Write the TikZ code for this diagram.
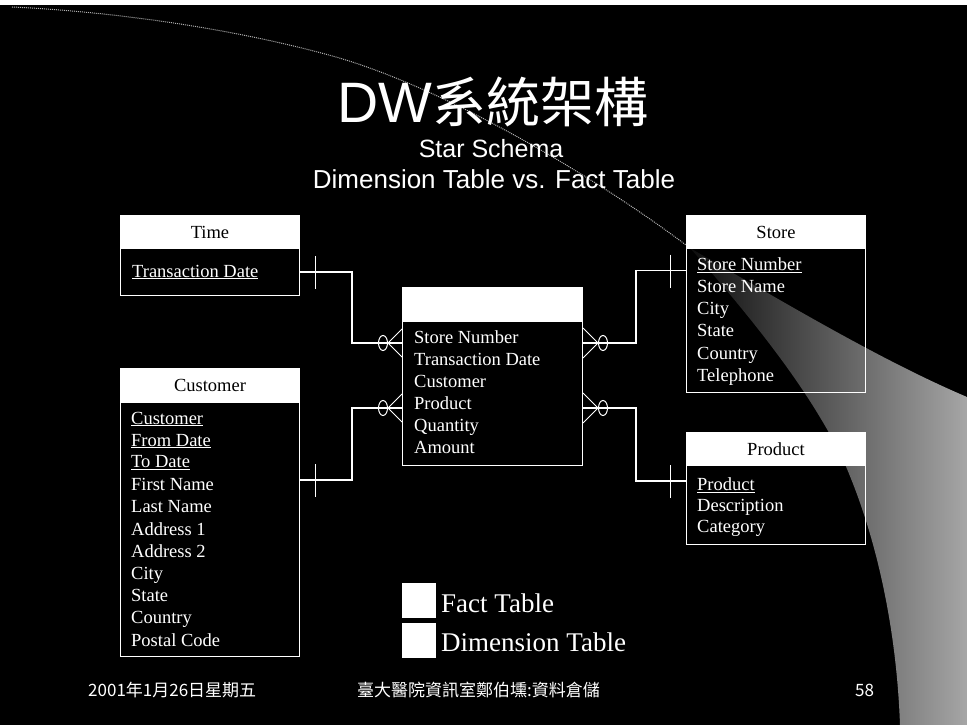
\documentclass[tikz,border=0pt]{standalone}
\usepackage{fontspec}
\setmainfont{Liberation Serif}
\newfontfamily\arialf{Liberation Sans}
\newfontfamily\cjkf{Noto Sans CJK TC}
\usetikzlibrary{calc}
\begin{document}
\begin{tikzpicture}[x=1pt,y=-1pt,
  hdr/.style={draw=white, fill=white, line width=1pt, minimum width=179pt, minimum height=33pt, inner sep=0pt, anchor=north west, text=black, font=\fontsize{18.5}{22}\selectfont},
  bodybox/.style={draw=white, line width=1pt, inner sep=0pt, anchor=north west, minimum width=179pt},
  row/.style={text=white, anchor=base west, inner sep=0pt, font=\fontsize{18.5}{22}\selectfont},
  conn/.style={draw=white, line width=1.2pt},
  crow/.style={draw=white, line width=1pt},
  legbox/.style={fill=white, draw=white, minimum width=33pt, minimum height=34pt, inner sep=0pt, anchor=north west},
  legtext/.style={text=white, anchor=base west, inner sep=0pt, font=\fontsize{27}{30}\selectfont},
  foot/.style={text=white, anchor=base west, inner sep=0pt, font=\cjkf\fontsize{17}{20}\selectfont}
]
\useasboundingbox (0,0) rectangle (967,725);
\fill[black] (0,0) rectangle (967,725);
\fill[white] (0,0) rectangle (967,5);

% decorative swoosh
\begin{scope}
\clip (690,248) .. controls (780,300) and (880,360) .. (967,397)
  -- (967,725) -- (900,725)
  .. controls (897,640) and (880,540) .. (840,453)
  .. controls (815,405) and (780,350) .. cycle;
\shade[left color=black!90!gray, right color=gray!70] (690,248) rectangle (967,725);
\end{scope}
\draw[gray!60, densely dotted, line width=1pt] (12,7) .. controls (120,12) and (240,30) .. (336,57)
  .. controls (450,90) and (600,180) .. (690,248);

% title
\node[text=white, anchor=base, inner sep=0pt] (title) at (493,122)
  {\arialf\fontsize{57}{60}\selectfont DW\cjkf\fontsize{54}{60}\selectfont 系統架構};
\node[text=white, anchor=base, inner sep=0pt, font=\arialf\fontsize{25}{28}\selectfont] (sub1) at (491,157) {Star Schema};
\node[text=white, anchor=base, inner sep=0pt, font=\arialf\fontsize{26}{28}\selectfont] (sub2) at (494,188) {Dimension Table vs. Fact Table};

% Time
\node[hdr] (timeh) at (120,215) {Time};
\node[bodybox, minimum height=47pt] (timeb) at (120,248) {};
\node[row] (t1) at (132,277) {\underline{Transaction Date}};

% Customer
\node[hdr] (custh) at (120,368) {Customer};
\node[bodybox, minimum height=254pt] (custb) at (120,402) {};
\node[row] (c1) at (131,424) {\underline{Customer}};
\node[row] (c2) at (131,446) {\underline{From Date}};
\node[row] (c3) at (131,467.5) {\underline{To Date}};
\node[row] (c4) at (131,490) {First Name};
\node[row] (c5) at (131,512.5) {Last Name};
\node[row] (c6) at (131,535) {Address 1};
\node[row] (c7) at (131,557) {Address 2};
\node[row] (c8) at (131,579) {City};
\node[row] (c9) at (131,601.5) {State};
\node[row] (c10) at (131,623.5) {Country};
\node[row] (c11) at (131,646) {Postal Code};

% Fact
\node[hdr, minimum width=180pt] (facth) at (402,287) {};
\node[bodybox, minimum width=180pt, minimum height=144pt] (factb) at (402,321) {};
\node[row] (f1) at (414,343) {Store Number};
\node[row] (f2) at (414,365) {Transaction Date};
\node[row] (f3) at (414,387) {Customer};
\node[row] (f4) at (414,409.5) {Product};
\node[row] (f5) at (414,431.5) {Quantity};
\node[row] (f6) at (414,453) {Amount};

% Store
\node[hdr] (storeh) at (686,215) {Store};
\node[bodybox, minimum height=144pt] (storeb) at (686,248) {};
\node[row] (s1) at (697,270.5) {\underline{Store Number}};
\node[row] (s2) at (697,292) {Store Name};
\node[row] (s3) at (697,314) {City};
\node[row] (s4) at (697,336.5) {State};
\node[row] (s5) at (697,359) {Country};
\node[row] (s6) at (697,381.5) {Telephone};

% Product
\node[hdr] (prodh) at (686,432) {Product};
\node[bodybox, minimum height=80pt] (prodb) at (686,464) {};
\node[row] (p1) at (697,490.5) {\underline{Product}};
\node[row] (p2) at (697,511) {Description};
\node[row] (p3) at (697,532) {Category};

% connector anchors
\coordinate (fL1) at ($(factb.north west)+(0,22)$);
\coordinate (fL2) at ($(factb.north west)+(0,87)$);
\coordinate (fR1) at ($(factb.north east)+(0,22)$);
\coordinate (fR2) at ($(factb.north east)+(0,87)$);
\coordinate (cS) at ($(custb.north east)+(0,78)$);
\coordinate (sS) at ($(storeb.north west)+(0,22.5)$);
\coordinate (pS) at ($(prodb.north west)+(0,17)$);

% connectors
\draw[conn] (timeb.east) -- ++(52,0) |- (fL1);
\draw[conn] (cS) -- ++(52,0) |- (fL2);
\draw[conn] (fR1) -- ++(53,0) |- (sS);
\draw[conn] (fR2) -- ++(53,0) |- (pS);

% one-marks
\draw[crow] ($(timeb.east)+(15,-16)$) -- ++(0,33);
\draw[crow] ($(cS)+(15,-16)$) -- ++(0,33);
\draw[crow] ($(sS)+(-16,-16)$) -- ++(0,33);
\draw[crow] ($(pS)+(-16,-16)$) -- ++(0,33);

% zero-or-many marks
\foreach \p in {fL1,fL2}{
  \draw[crow] ($(\p)+(0,-14)$) -- ($(\p)+(-14,0)$) -- ($(\p)+(0,14)$);
  \draw[crow] ($(\p)+(-19,0)$) ellipse [x radius=4.5, y radius=7.5];
}
\foreach \p in {fR1,fR2}{
  \draw[crow] ($(\p)+(0,-15)$) -- ($(\p)+(15,0)$) -- ($(\p)+(0,15)$);
  \draw[crow] ($(\p)+(20,0)$) ellipse [x radius=4.5, y radius=7.5];
}

% legend
\node[legbox] (lfact) at (402,583) {};
\node[legbox] (ldim) at (402,623) {};
\node[legtext] (lfactt) at (441,612) {Fact Table};
\node[legtext] (ldimt) at (441,651) {Dimension Table};

% footer
\node[foot] (date) at (88,696) {2001年1月26日星期五};
\node[foot] (org) at (357,696) {臺大醫院資訊室鄭伯壎:資料倉儲};
\node[foot] (page) at (855,696) {58};
\end{tikzpicture}
\end{document}
